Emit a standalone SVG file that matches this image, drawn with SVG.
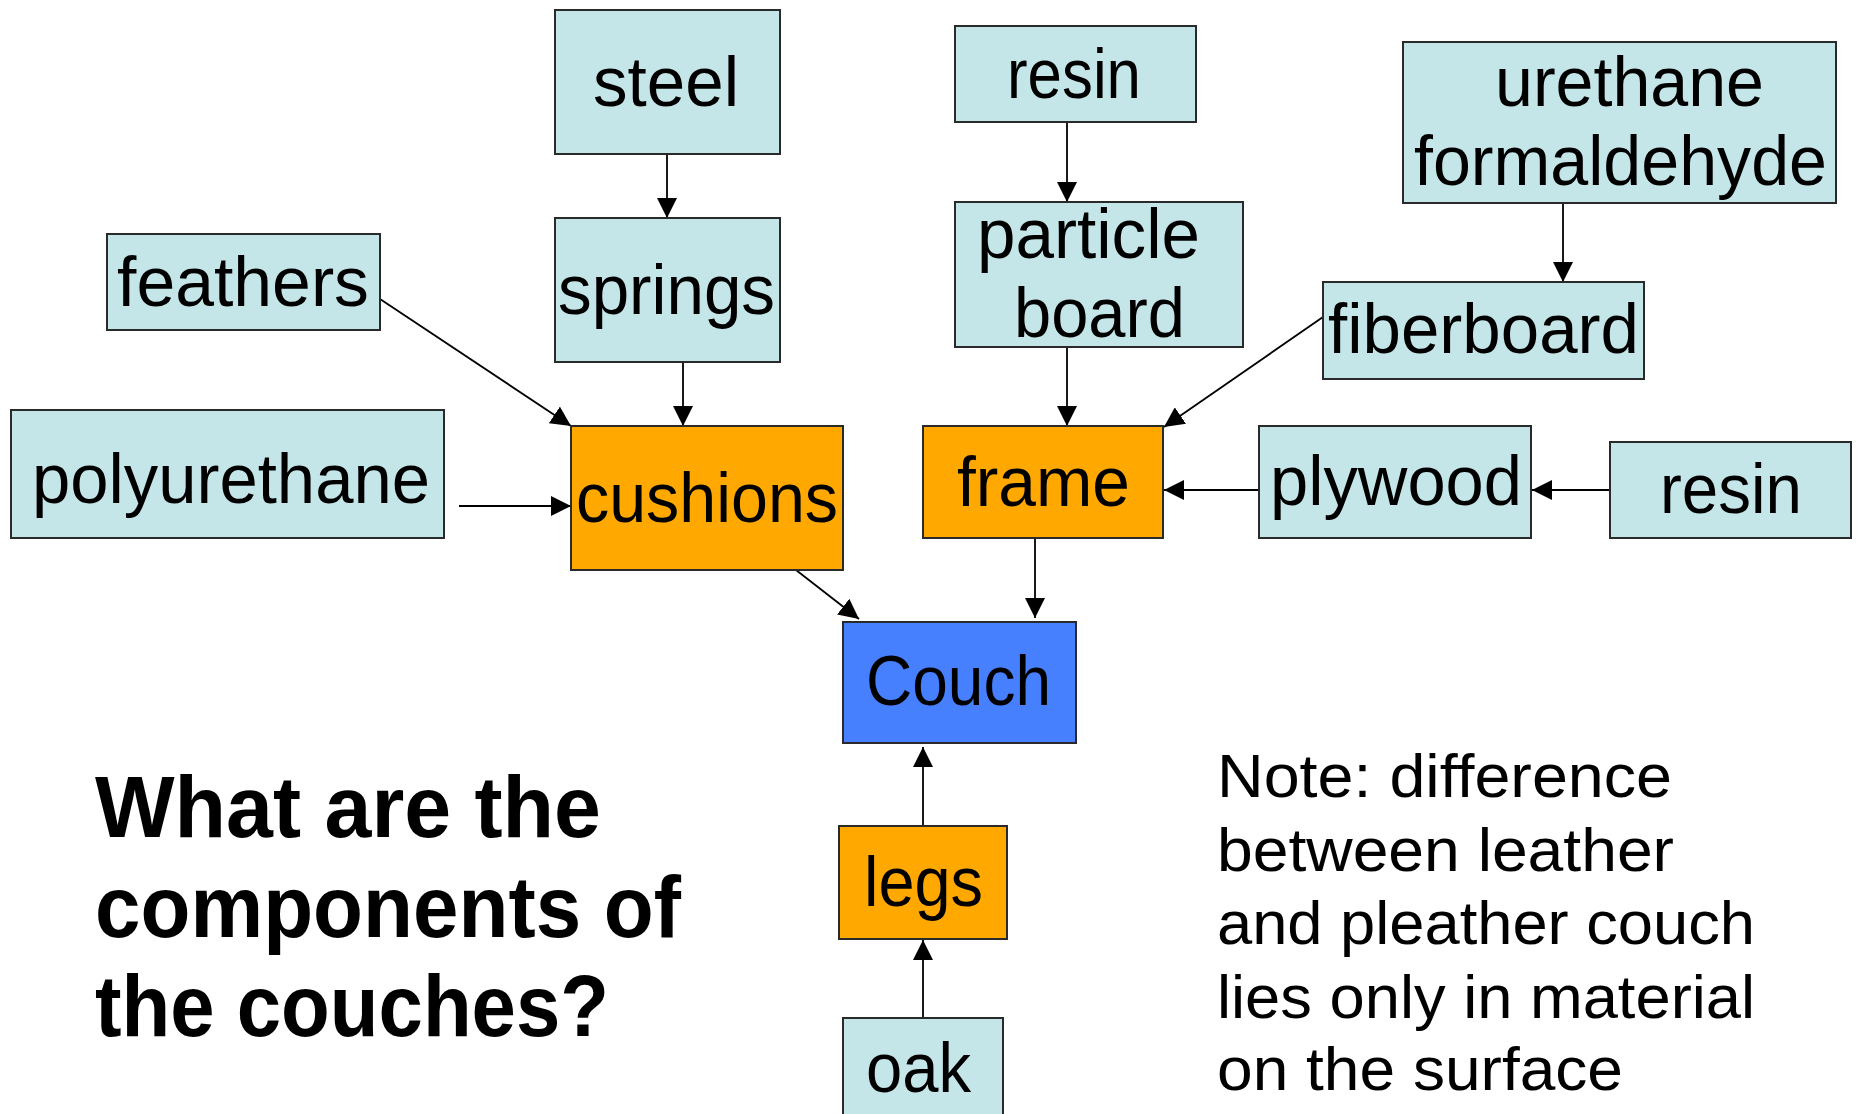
<svg xmlns="http://www.w3.org/2000/svg" width="1862" height="1114" viewBox="0 0 1862 1114">
  <style>
    .box { stroke: #2a2a2a; stroke-width: 2; }
    .mat { fill: #c4e6e8; }
    .part { fill: #ffa800; }
    .root { fill: #4680ff; }
    .lbl { font-family: "Liberation Sans", Arial, sans-serif; font-size: 70px; fill: #000; }
    .title { font-family: "Liberation Sans", Arial, sans-serif; font-size: 88px; font-weight: bold; fill: #000; }
    .note { font-family: "Liberation Sans", Arial, sans-serif; font-size: 62px; fill: #000; }
    .edge { stroke: #000; stroke-width: 1.8; fill: none; marker-end: url(#arrow); }
  </style>
  <defs>
    <marker id="arrow" viewBox="0 0 20 20" refX="20" refY="10" markerWidth="20" markerHeight="20" markerUnits="userSpaceOnUse" orient="auto">
      <path d="M0,0 L20,10 L0,20 z" fill="#000"/>
    </marker>
  </defs>
  <rect width="1862" height="1114" fill="#fff"/>

  <g id="connectors">
    <path class="edge" d="M667,154 L667,218"/>
    <path class="edge" d="M683,362 L683,426"/>
    <path class="edge" d="M380,299 L571,426"/>
    <path class="edge" d="M459,506 L571,506"/>
    <path class="edge" d="M796,570 L859,619"/>
    <path class="edge" d="M1067,122 L1067,202"/>
    <path class="edge" d="M1067,347 L1067,426"/>
    <path class="edge" d="M1563,203 L1563,282"/>
    <path class="edge" d="M1323,317 L1164,427"/>
    <path class="edge" d="M1259,490 L1164,490"/>
    <path class="edge" d="M1610,490 L1532,490"/>
    <path class="edge" d="M1035,538 L1035,618"/>
    <path class="edge" d="M923,826 L923,747"/>
    <path class="edge" d="M923,1018 L923,940"/>
  </g>

  <g id="steel">
    <rect class="box mat" x="555" y="10" width="225" height="144"/>
    <text class="lbl" x="593" y="106" textLength="146" lengthAdjust="spacingAndGlyphs">steel</text>
  </g>
  <g id="springs">
    <rect class="box mat" x="555" y="218" width="225" height="144"/>
    <text class="lbl" x="558" y="314" textLength="217" lengthAdjust="spacingAndGlyphs">springs</text>
  </g>
  <g id="feathers">
    <rect class="box mat" x="107" y="234" width="273" height="96"/>
    <text class="lbl" x="117" y="306" textLength="252" lengthAdjust="spacingAndGlyphs">feathers</text>
  </g>
  <g id="polyurethane">
    <rect class="box mat" x="11" y="410" width="433" height="128"/>
    <text class="lbl" x="32" y="503" textLength="398" lengthAdjust="spacingAndGlyphs">polyurethane</text>
  </g>
  <g id="cushions">
    <rect class="box part" x="571" y="426" width="272" height="144"/>
    <text class="lbl" x="576" y="522" textLength="262" lengthAdjust="spacingAndGlyphs">cushions</text>
  </g>
  <g id="resin-particle">
    <rect class="box mat" x="955" y="26" width="241" height="96"/>
    <text class="lbl" x="1007" y="98" textLength="134" lengthAdjust="spacingAndGlyphs">resin</text>
  </g>
  <g id="particle-board">
    <rect class="box mat" x="955" y="202" width="288" height="145"/>
    <text class="lbl" x="977" y="258" textLength="223" lengthAdjust="spacingAndGlyphs">particle</text>
    <text class="lbl" x="1014" y="337" textLength="171" lengthAdjust="spacingAndGlyphs">board</text>
  </g>
  <g id="urethane-formaldehyde">
    <rect class="box mat" x="1403" y="42" width="433" height="161"/>
    <text class="lbl" x="1495" y="106" textLength="269" lengthAdjust="spacingAndGlyphs">urethane</text>
    <text class="lbl" x="1414" y="185" textLength="413" lengthAdjust="spacingAndGlyphs">formaldehyde</text>
  </g>
  <g id="fiberboard">
    <rect class="box mat" x="1323" y="282" width="321" height="97"/>
    <text class="lbl" x="1328" y="353" textLength="311" lengthAdjust="spacingAndGlyphs">fiberboard</text>
  </g>
  <g id="frame">
    <rect class="box part" x="923" y="426" width="240" height="112"/>
    <text class="lbl" x="957" y="506" textLength="173" lengthAdjust="spacingAndGlyphs">frame</text>
  </g>
  <g id="plywood">
    <rect class="box mat" x="1259" y="426" width="272" height="112"/>
    <text class="lbl" x="1270" y="505" textLength="252" lengthAdjust="spacingAndGlyphs">plywood</text>
  </g>
  <g id="resin-plywood">
    <rect class="box mat" x="1610" y="442" width="241" height="96"/>
    <text class="lbl" x="1660" y="513" textLength="142" lengthAdjust="spacingAndGlyphs">resin</text>
  </g>
  <g id="couch">
    <rect class="box root" x="843" y="622" width="233" height="121"/>
    <text class="lbl" x="866" y="705" textLength="185" lengthAdjust="spacingAndGlyphs">Couch</text>
  </g>
  <g id="legs">
    <rect class="box part" x="839" y="826" width="168" height="113"/>
    <text class="lbl" x="864" y="906" textLength="119" lengthAdjust="spacingAndGlyphs">legs</text>
  </g>
  <g id="oak">
    <rect class="box mat" x="843" y="1018" width="160" height="120"/>
    <text class="lbl" x="866" y="1092" textLength="105" lengthAdjust="spacingAndGlyphs">oak</text>
  </g>

  <g id="question">
    <text class="title" x="95" y="837" textLength="506" lengthAdjust="spacingAndGlyphs">What are the</text>
    <text class="title" x="95" y="937" textLength="586" lengthAdjust="spacingAndGlyphs">components of</text>
    <text class="title" x="95" y="1036" textLength="514" lengthAdjust="spacingAndGlyphs">the couches?</text>
  </g>

  <g id="note">
    <text class="note" x="1217" y="797" textLength="455" lengthAdjust="spacingAndGlyphs">Note: difference</text>
    <text class="note" x="1217" y="871" textLength="457" lengthAdjust="spacingAndGlyphs">between leather</text>
    <text class="note" x="1217" y="944" textLength="538" lengthAdjust="spacingAndGlyphs">and pleather couch</text>
    <text class="note" x="1217" y="1018" textLength="538" lengthAdjust="spacingAndGlyphs">lies only in material</text>
    <text class="note" x="1217" y="1090" textLength="406" lengthAdjust="spacingAndGlyphs">on the surface</text>
  </g>
</svg>
